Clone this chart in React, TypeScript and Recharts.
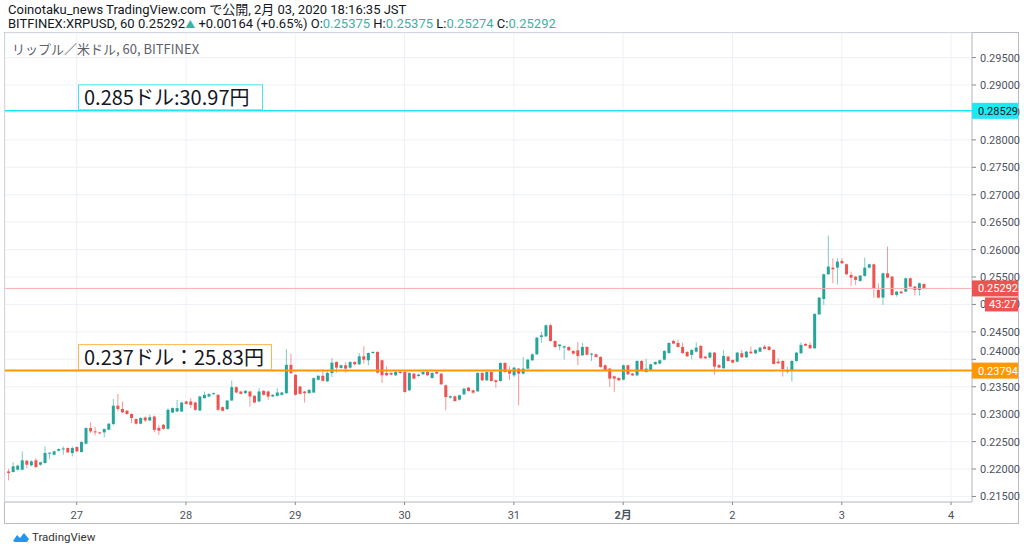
import React from "react";
import {
  ComposedChart,
  Bar,
  XAxis,
  YAxis,
  CartesianGrid,
  ReferenceLine,
} from "recharts";

// hours counted from 27 Jan 00:00 JST, first candle is 26 Jan 09:00
const START_HOUR = -15;

const opens = [
  0.21957, 0.21945, 0.21988, 0.21988, 0.22152, 0.22067, 0.22158, 0.22079, 0.2211, 0.22286,
  0.22261, 0.22334, 0.22368, 0.22383, 0.22292, 0.22401, 0.2231, 0.22462, 0.22747, 0.22687,
  0.22668, 0.22668, 0.22717, 0.2282, 0.23154, 0.23094, 0.23063, 0.23003, 0.22911, 0.22826,
  0.2294, 0.22885, 0.22957, 0.2275, 0.22806, 0.22733, 0.2303, 0.23049, 0.23049, 0.23231,
  0.23231, 0.23213, 0.23067, 0.23292, 0.23322, 0.23365, 0.23352, 0.23128, 0.23091, 0.23249,
  0.23492, 0.23413, 0.23383, 0.23413, 0.23334, 0.23231, 0.23425, 0.23413, 0.23322, 0.23334,
  0.23352, 0.23383, 0.23899, 0.23717, 0.23504, 0.23413, 0.23383, 0.23395, 0.23626, 0.23699,
  0.23599, 0.23751, 0.23951, 0.23842, 0.23891, 0.23848, 0.23951, 0.23909, 0.24055, 0.23982,
  0.24115, 0.24134, 0.23982, 0.23751, 0.23751, 0.23708, 0.23769, 0.23769, 0.23435, 0.23739,
  0.23696, 0.23727, 0.23769, 0.2366, 0.23769, 0.23739, 0.23526, 0.23301, 0.23326, 0.23265,
  0.23362, 0.23484, 0.23435, 0.23417, 0.23751, 0.23617, 0.23769, 0.23617, 0.23605, 0.23933,
  0.23799, 0.23708, 0.2383, 0.23739, 0.2383, 0.23982, 0.24091, 0.24407, 0.24419, 0.2462,
  0.24334, 0.24237, 0.24213, 0.24225, 0.24152, 0.24164, 0.24073, 0.24225, 0.24085, 0.24091,
  0.24043, 0.23891, 0.2383, 0.2369, 0.2366, 0.23629, 0.23891, 0.23739, 0.23708, 0.2397,
  0.23769, 0.23799, 0.23909, 0.23921, 0.23994, 0.24115, 0.24334, 0.24298, 0.24225, 0.24134,
  0.2408, 0.2414, 0.24244, 0.24049, 0.24031, 0.24122, 0.23897, 0.23837, 0.24049, 0.23988,
  0.23958, 0.2411, 0.24037, 0.2414, 0.2411, 0.2414, 0.24231, 0.24231, 0.24171, 0.23958,
  0.2397, 0.23776, 0.23794, 0.2397, 0.2411, 0.2428, 0.24262, 0.24201, 0.24821, 0.251,
  0.2555, 0.25671, 0.25671, 0.25793, 0.25732, 0.25538, 0.25507, 0.25428, 0.2552, 0.25671,
  0.25732, 0.25264, 0.25125, 0.25568, 0.25507, 0.25173, 0.25234, 0.25234, 0.25477, 0.25325,
  0.25264, 0.25375,
];

const highs = [
  0.22, 0.22122, 0.2208, 0.22322, 0.2217, 0.2216, 0.222, 0.22135, 0.22413, 0.223,
  0.22335, 0.22375, 0.22413, 0.22395, 0.22413, 0.22415, 0.22505, 0.2276, 0.2285, 0.22766,
  0.2268, 0.2274, 0.2284, 0.23276, 0.23367, 0.23233, 0.23075, 0.23015, 0.22925, 0.22945,
  0.2296, 0.2299, 0.22975, 0.22806, 0.2282, 0.2311, 0.23125, 0.23261, 0.23225, 0.23245,
  0.23292, 0.23225, 0.23335, 0.23413, 0.23378, 0.23395, 0.23365, 0.2314, 0.2326, 0.23614,
  0.23505, 0.23425, 0.2344, 0.23425, 0.23345, 0.23474, 0.23438, 0.23425, 0.23365, 0.23474,
  0.23408, 0.24185, 0.241, 0.2373, 0.23515, 0.23425, 0.23455, 0.23668, 0.2371, 0.2382,
  0.2379, 0.24024, 0.23965, 0.23905, 0.2395, 0.23965, 0.23965, 0.24115, 0.24237, 0.24125,
  0.24148, 0.24148, 0.23995, 0.23872, 0.23765, 0.23782, 0.238, 0.2378, 0.23765, 0.2375,
  0.23735, 0.23782, 0.23782, 0.23765, 0.23782, 0.23752, 0.2354, 0.2334, 0.2334, 0.23358,
  0.2348, 0.23497, 0.23448, 0.23765, 0.23765, 0.23782, 0.23782, 0.2363, 0.23946, 0.23946,
  0.2387, 0.23862, 0.23843, 0.24043, 0.24008, 0.24105, 0.2441, 0.24498, 0.24635, 0.2465,
  0.24346, 0.2428, 0.2425, 0.24238, 0.24165, 0.24316, 0.24298, 0.24238, 0.24118, 0.24104,
  0.24056, 0.23905, 0.23843, 0.23703, 0.23673, 0.23905, 0.23905, 0.23752, 0.23985, 0.23983,
  0.24012, 0.23922, 0.23965, 0.23995, 0.24165, 0.24312, 0.24358, 0.24358, 0.243, 0.24148,
  0.24185, 0.2431, 0.24258, 0.24062, 0.2414, 0.24135, 0.2391, 0.24165, 0.24062, 0.24,
  0.24135, 0.24171, 0.24153, 0.24231, 0.24185, 0.24226, 0.24262, 0.24244, 0.24184, 0.24019,
  0.23983, 0.23867, 0.23983, 0.24135, 0.2431, 0.24293, 0.2431, 0.2484, 0.25138, 0.25563,
  0.26255, 0.25842, 0.25842, 0.25842, 0.25745, 0.25599, 0.2552, 0.25539, 0.25854, 0.25745,
  0.25745, 0.25386, 0.25581, 0.26054, 0.2552, 0.25247, 0.25247, 0.25489, 0.2549, 0.25338,
  0.25399, 0.25375,
];

const lows = [
  0.21793, 0.2194, 0.2197, 0.21976, 0.22018, 0.2205, 0.22018, 0.2206, 0.22097, 0.22182,
  0.2225, 0.2232, 0.22261, 0.2229, 0.22231, 0.2231, 0.223, 0.2245, 0.22656, 0.22614,
  0.2264, 0.22577, 0.22705, 0.228, 0.23051, 0.2302, 0.2299, 0.22838, 0.2281, 0.22815,
  0.2286, 0.2287, 0.22668, 0.22623, 0.2272, 0.2272, 0.23015, 0.2304, 0.2304, 0.23175,
  0.2311, 0.23065, 0.23055, 0.2328, 0.2331, 0.23355, 0.23065, 0.2305, 0.2308, 0.2324,
  0.2338, 0.2336, 0.2337, 0.2314, 0.232, 0.2322, 0.2334, 0.23261, 0.2331, 0.2332,
  0.2334, 0.2337, 0.23735, 0.2334, 0.2336, 0.23213, 0.2337, 0.23385, 0.23615, 0.23595,
  0.23585, 0.23678, 0.23757, 0.2383, 0.23757, 0.23835, 0.23895, 0.23895, 0.23921, 0.2389,
  0.241, 0.2374, 0.23569, 0.2369, 0.23705, 0.23695, 0.2373, 0.2339, 0.2342, 0.23635,
  0.2368, 0.23715, 0.23695, 0.23645, 0.23725, 0.2353, 0.2307, 0.23285, 0.23225, 0.2325,
  0.2335, 0.2341, 0.23375, 0.23405, 0.23605, 0.23605, 0.2359, 0.23484, 0.2359, 0.23755,
  0.2362, 0.23678, 0.23161, 0.23725, 0.23815, 0.2397, 0.2408, 0.24304, 0.24405, 0.2432,
  0.2421, 0.24164, 0.23994, 0.2415, 0.2409, 0.23891, 0.2406, 0.2407, 0.2397, 0.2403,
  0.23845, 0.23785, 0.23496, 0.23405, 0.23605, 0.23615, 0.23715, 0.23695, 0.23695, 0.23785,
  0.23755, 0.23785, 0.23895, 0.23908, 0.2398, 0.241, 0.24272, 0.24212, 0.241, 0.2404,
  0.24001, 0.24125, 0.24005, 0.24005, 0.24015, 0.23715, 0.23835, 0.23825, 0.23958, 0.23928,
  0.23945, 0.24025, 0.24025, 0.24098, 0.24098, 0.24128, 0.24176, 0.24158, 0.23903, 0.23915,
  0.23685, 0.23745, 0.23593, 0.23958, 0.24098, 0.24238, 0.24189, 0.24189, 0.24808, 0.24991,
  0.25538, 0.25386, 0.25368, 0.25738, 0.25537, 0.25337, 0.25355, 0.25415, 0.25507, 0.25658,
  0.25125, 0.25112, 0.24991, 0.25476, 0.2516, 0.25143, 0.25191, 0.25221, 0.25312, 0.25161,
  0.25161, 0.25274,
];

const closes = [
  0.21927, 0.22049, 0.22061, 0.22158, 0.22079, 0.2214, 0.22036, 0.22122, 0.22292, 0.22298,
  0.22322, 0.22365, 0.22374, 0.22304, 0.22383, 0.22322, 0.22492, 0.22747, 0.22687, 0.22668,
  0.22656, 0.22729, 0.22826, 0.23154, 0.23094, 0.23033, 0.23003, 0.2293, 0.22826, 0.2293,
  0.22885, 0.22945, 0.22714, 0.227, 0.22733, 0.23079, 0.2311, 0.2311, 0.23213, 0.23188,
  0.2317, 0.23079, 0.23322, 0.23352, 0.23365, 0.23383, 0.23079, 0.23061, 0.23249, 0.23492,
  0.23395, 0.23371, 0.23425, 0.23322, 0.23213, 0.23413, 0.23352, 0.23322, 0.23352, 0.23395,
  0.23395, 0.23899, 0.23747, 0.23352, 0.23371, 0.23383, 0.23444, 0.23656, 0.23699, 0.23608,
  0.23751, 0.23939, 0.23848, 0.23891, 0.2383, 0.23951, 0.23909, 0.24055, 0.23994, 0.24115,
  0.24134, 0.23757, 0.23708, 0.23708, 0.23721, 0.23769, 0.2376, 0.23405, 0.23751, 0.23648,
  0.23721, 0.23769, 0.23708, 0.23751, 0.23739, 0.23544, 0.23313, 0.23326, 0.2324, 0.23344,
  0.23465, 0.23423, 0.23392, 0.23751, 0.23617, 0.23769, 0.23605, 0.23587, 0.23933, 0.23769,
  0.23739, 0.23848, 0.23739, 0.2383, 0.23994, 0.24091, 0.24395, 0.24437, 0.2462, 0.24334,
  0.24225, 0.24267, 0.24237, 0.24164, 0.24103, 0.24061, 0.24225, 0.24085, 0.24103, 0.24043,
  0.2386, 0.23799, 0.23648, 0.23648, 0.23617, 0.23891, 0.23727, 0.23708, 0.2397, 0.23799,
  0.2383, 0.23909, 0.23951, 0.23982, 0.24152, 0.24298, 0.24286, 0.24225, 0.24115, 0.24055,
  0.24171, 0.24213, 0.24019, 0.24019, 0.24122, 0.23867, 0.23849, 0.2406, 0.2397, 0.2394,
  0.24122, 0.24037, 0.2414, 0.2411, 0.24171, 0.24213, 0.24189, 0.24171, 0.23916, 0.23928,
  0.23824, 0.23806, 0.2397, 0.24122, 0.24262, 0.2425, 0.24201, 0.24827, 0.25125, 0.2555,
  0.2569, 0.25641, 0.25781, 0.2575, 0.2555, 0.25489, 0.25447, 0.25526, 0.25671, 0.25732,
  0.25295, 0.25125, 0.25568, 0.25489, 0.25173, 0.25234, 0.25204, 0.25477, 0.25325, 0.25264,
  0.25386, 0.25292,
];

const dayTicks = [0, 24, 48, 72, 96, 120, 144, 168, 192];
const dayLabels = ["27", "28", "29", "30", "31", "2月", "2", "3", "4"];
const priceTicks = [
  0.215, 0.22, 0.225, 0.23, 0.235, 0.24, 0.245, 0.25, 0.255, 0.26, 0.265, 0.27,
  0.275, 0.28, 0.285, 0.29, 0.295,
];

const resistance = 0.28529;
const support = 0.23794;
const lastPrice = 0.25292;
const countdown = "43:27";
const resistanceNote = "0.285ドル:30.97円";
const supportNote = "0.237ドル：25.83円";

const UP = "#26a69a";
const DOWN = "#ef5350";
const JP_FONT = '"Noto Sans CJK JP", "Noto Sans", sans-serif';

const X_DOMAIN = [-15.74, 196.6];
const Y_DOMAIN = [0.21399, 0.29948];

const data = opens.map((open, i) => ({
  hour: START_HOUR + i,
  open,
  high: highs[i],
  low: lows[i],
  close: closes[i],
  range: [lows[i], highs[i]],
}));

const Candle = (props: any) => {
  const { x, y, width, height, payload } = props;
  const { open, close, high, low } = payload;
  const top = Math.min(y, y + height);
  const span = Math.abs(height);
  const perUnit = high > low ? span / (high - low) : 0;
  const color = close >= open ? UP : DOWN;
  const bodyTop = top + (high - Math.max(open, close)) * perUnit;
  const bodyH = Math.max(1, Math.abs(close - open) * perUnit);
  const cx = x + width / 2;
  return (
    <g>
      <line x1={cx} x2={cx} y1={top} y2={top + span} stroke={color} strokeOpacity={0.6} strokeWidth={1} />
      <rect x={x} y={bodyTop} width={width} height={bodyH} fill={color} />
    </g>
  );
};

const PriceTag = (props: any) => {
  const { viewBox, price, fill, color, note, noteBorder, noteWidth, timer } = props;
  const { x, y, width } = viewBox;
  const right = x + width;
  return (
    <g>
      {note && (
        <g>
          <rect x={x + 73.5} y={y - 26} width={noteWidth} height={25} fill="#fff" stroke={noteBorder} />
          <text x={x + 79} y={y - 6} fontSize={20} fill="#131722" fontFamily={JP_FONT}>
            {note}
          </text>
        </g>
      )}
      <rect x={right} y={y - 8} width={46} height={16} fill={fill} />
      <text x={right + 6} y={y + 4} fontSize={11} fill={color}>
        {price.toFixed(5)}
      </text>
      {timer && (
        <g>
          <rect x={right + 13} y={y + 9} width={33} height={14} fill={fill} />
          <text x={right + 17} y={y + 20} fontSize={11} fill={color}>
            {timer}
          </text>
        </g>
      )}
    </g>
  );
};

const DayTick = (props: any) => {
  const { x, y, payload } = props;
  const label = dayLabels[dayTicks.indexOf(payload.value)];
  return (
    <text x={x} y={y + 12} textAnchor="middle" fontSize={11} fill="#4c525e" fontWeight={label === "2月" ? 700 : 400}>
      {label}
    </text>
  );
};

const PriceTickLabel = (props: any) => {
  const { x, y, payload } = props;
  // the 0.24000 label gets pushed up by the support tag in the original
  const shift = Math.abs(payload.value - 0.24) < 1e-9 ? -8 : 0;
  return (
    <text x={x + 2} y={y + 4 + shift} fontSize={11} fill="#4c525e">
      {payload.value.toFixed(5)}
    </text>
  );
};

export default function App() {
  return (
    <div
      style={{
        position: "absolute",
        left: 0,
        top: 0,
        width: 1024,
        height: 552,
        background: "#fff",
        overflow: "hidden",
        fontFamily: 'Roboto, "Noto Sans CJK JP", sans-serif',
        color: "#131722",
      }}
    >
      <div style={{ position: "absolute", left: 8, top: 2, fontSize: 13, lineHeight: "15px", whiteSpace: "nowrap" }}>
        Coinotaku_news TradingView.com で公開, 2月 03, 2020 18:16:35 JST
      </div>
      <div style={{ position: "absolute", left: 8, top: 16, fontSize: 13, lineHeight: "15px", whiteSpace: "nowrap" }}>
        BITFINEX:XRPUSD, 60 0.25292
        <span style={{ color: "#3fb1a5", fontSize: 10 }}>▲</span> +0.00164 (+0.65%) O:
        <span style={{ color: "#3fb1a5" }}>0.25375</span> H:
        <span style={{ color: "#3fb1a5" }}>0.25375</span> L:
        <span style={{ color: "#3fb1a5" }}>0.25274</span> C:
        <span style={{ color: "#3fb1a5" }}>0.25292</span>
      </div>

      <div
        style={{
          position: "absolute",
          left: 4,
          top: 32,
          width: 1013,
          height: 490,
          border: "1px solid #b8bcc4",
        }}
      />

      {/* candles, grid and axes */}
      <div style={{ position: "absolute", left: 0, top: 0 }}>
        <ComposedChart
          width={1024}
          height={552}
          data={data}
          margin={{ top: 33, right: 6, bottom: 29, left: 5 }}
        >
          <CartesianGrid stroke="#eef1f6" />
          <XAxis
            dataKey="hour"
            type="number"
            domain={X_DOMAIN}
            allowDataOverflow
            ticks={dayTicks}
            interval={0}
            height={21}
            tick={<DayTick />}
            tickSize={3}
            axisLine={{ stroke: "#b8bcc4" }}
            tickLine={{ stroke: "#888" }}
          />
          <YAxis
            orientation="right"
            type="number"
            domain={Y_DOMAIN}
            allowDataOverflow
            ticks={priceTicks}
            interval={0}
            width={46}
            tick={<PriceTickLabel />}
            tickSize={4}
            axisLine={{ stroke: "#b8bcc4" }}
            tickLine={{ stroke: "#888" }}
          />
          <Bar dataKey="range" shape={Candle} barSize={3} isAnimationActive={false} />
        </ComposedChart>
      </div>

      {/* horizontal price lines and their tags, on top of the axis labels */}
      <div style={{ position: "absolute", left: 0, top: 0 }}>
        <ComposedChart
          width={1024}
          height={552}
          data={data}
          margin={{ top: 33, right: 52, bottom: 50, left: 5 }}
        >
          <XAxis dataKey="hour" type="number" domain={X_DOMAIN} allowDataOverflow hide />
          <YAxis type="number" domain={Y_DOMAIN} allowDataOverflow hide />
          <ReferenceLine
            y={lastPrice}
            stroke="#f6b1b1"
            strokeWidth={1}
            label={<PriceTag price={lastPrice} fill={DOWN} color="#fff" timer={countdown} />}
          />
          <ReferenceLine
            y={resistance}
            stroke="#1fe4ef"
            strokeWidth={1.5}
            label={
              <PriceTag
                price={resistance}
                fill="#1fe8f2"
                color="#131722"
                note={resistanceNote}
                noteBorder="#3ee6ef"
                noteWidth={184}
              />
            }
          />
          <ReferenceLine
            y={support}
            stroke="#ff9800"
            strokeWidth={2}
            label={
              <PriceTag
                price={support}
                fill="#ff9800"
                color="#fff"
                note={supportNote}
                noteBorder="#ffb74d"
                noteWidth={193}
              />
            }
          />
        </ComposedChart>
      </div>

      <div style={{ position: "absolute", left: 13, top: 530, height: 14, display: "flex", alignItems: "center" }}>
        <svg width={16} height={11} viewBox="0 0 16 11">
          <path d="M0 9 L4 3 L7 6 L11 1 L16 7 L14 10 L2 10 Z" fill="#2196f3" />
        </svg>
        <span style={{ marginLeft: 3, fontSize: 11.5, color: "#333" }}>TradingView</span>
      </div>

      <div
        style={{
          position: "absolute",
          left: 12,
          top: 39,
          fontSize: 13,
          color: "#5d606b",
          fontFamily: JP_FONT,
          whiteSpace: "nowrap",
        }}
      >
        リップル／米ドル, 60, BITFINEX
      </div>
    </div>
  );
}
